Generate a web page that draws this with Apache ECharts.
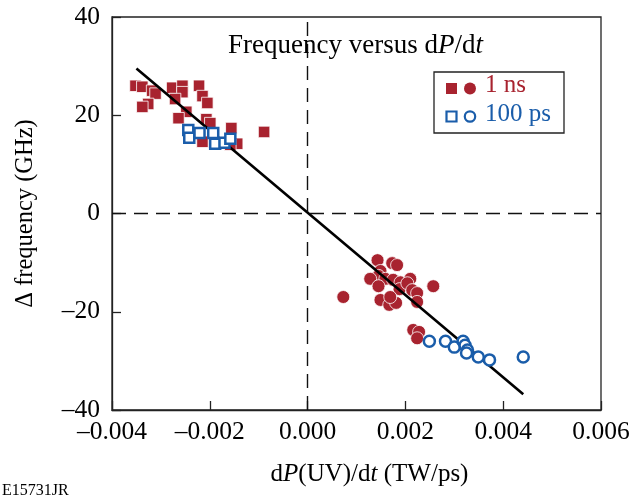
<!DOCTYPE html>
<html>
<head>
<meta charset="utf-8">
<script src="https://cdn.jsdelivr.net/npm/echarts@6/dist/echarts.min.js"></script>
<style>html,body{margin:0;padding:0;background:#fff}#c{width:644px;height:498px}</style>
</head>
<body>
<div id="c"></div>
<script>
// 1 ns, square markers (negative dP/dt)
const nsSquareX = [-0.00352,-0.00338,-0.00318,-0.00311,-0.00326,-0.00338,-0.00277,-0.00256,-0.00256,-0.00271,-0.00248,-0.00264,-0.00222,-0.00215,-0.00205,-0.00207,-0.00199,-0.00156,-0.00144,-0.00089,-0.00215,-0.00158];
const nsSquareY = [26.0,25.8,25.0,24.4,22.3,21.7,25.6,26.0,24.7,23.3,20.7,19.4,26.0,23.9,22.5,19.2,18.4,17.4,14.2,16.6,14.6,14.0];
// 100 ps, open squares
const psSquareX = [-0.00244,-0.00242,-0.00221,-0.00193,-0.00189,-0.00170,-0.00158];
const psSquareY = [17.0,15.4,16.4,16.4,14.2,14.4,15.2];
// 1 ns, filled circles (positive dP/dt)
const nsCircleX = [0.00143,0.00173,0.00183,0.00149,0.00145,0.00128,0.00159,0.00175,0.00190,0.00210,0.00145,0.00188,0.00204,0.00214,0.00224,0.00149,0.00167,0.00181,0.00169,0.00224,0.00257,0.00073,0.00216,0.00228,0.00224];
const nsCircleY = [-9.5,-10.1,-10.5,-11.7,-12.7,-13.3,-13.3,-13.5,-14.0,-13.3,-14.8,-15.4,-14.2,-15.6,-16.2,-17.6,-18.6,-18.2,-17.0,-18.0,-14.8,-17.0,-23.7,-24.1,-25.4];
// 100 ps, open circles
const psCircleX = [0.00249,0.00282,0.00300,0.00318,0.00322,0.00327,0.00325,0.00349,0.00372,0.00441];
const psCircleY = [-26.0,-26.0,-27.2,-26.0,-26.8,-27.8,-28.4,-29.2,-29.8,-29.2];
// fitted line end points
const fitX = [-0.0035, 0.00441];
const fitY = [29.5, -36.8];
// axis ticks
const xTicks = [-0.004,-0.002,0.000,0.002,0.004,0.006];
const yTicks = [-40,-20,0,20,40];

const RED = '#A8232F', BLUE = '#1A5DAA';
const FONT = '"Liberation Serif", "DejaVu Serif", serif';
const pairs = (xs, ys) => xs.map((x, i) => [x, ys[i]]);
const fmtX = v => (v < 0 ? '\u2013' : '') + Math.abs(v).toFixed(3);
const fmtY = v => (v < 0 ? '\u2013' : '') + Math.abs(v);

const chart = echarts.init(document.getElementById('c'), null, {renderer: 'canvas'});
chart.setOption({
  animation: false,
  backgroundColor: '#fff',
  textStyle: {fontFamily: FONT},
  grid: {left: 112, top: 17, right: 43, bottom: 88, show: true, borderColor: '#222', borderWidth: 1.3, backgroundColor: 'transparent'},
  xAxis: {
    type: 'value', min: xTicks[0], max: xTicks[xTicks.length - 1], interval: 0.002,
    axisLine: {show: true, onZero: false, lineStyle: {color: '#222', width: 1.3}},
    axisTick: {show: true, inside: true, length: 9, lineStyle: {color: '#222', width: 1.3}},
    splitLine: {show: false},
    axisLabel: {formatter: fmtX, fontSize: 25.5, color: '#000', margin: 9, fontFamily: FONT},
    name: '{n|d}{i|P}{n|(UV)/d}{i|t}{n| (TW/ps)}',
    nameLocation: 'middle', nameGap: 52,
    nameTextStyle: {padding: [0, 0, 0, 26], rich: {n: {fontSize: 25, fontFamily: FONT, color: '#000'}, i: {fontSize: 25, fontFamily: FONT, fontStyle: 'italic', color: '#000'}}}
  },
  yAxis: {
    type: 'value', min: yTicks[0], max: yTicks[yTicks.length - 1], interval: 20,
    axisLine: {show: true, onZero: false, lineStyle: {color: '#222', width: 1.3}},
    axisTick: {show: true, inside: true, length: 9, lineStyle: {color: '#222', width: 1.3}},
    splitLine: {show: false},
    axisLabel: {formatter: fmtY, fontSize: 25.5, color: '#000', margin: 12, fontFamily: FONT},
    name: '\u0394 frequency (GHz)', nameLocation: 'middle', nameGap: 74,
    nameTextStyle: {fontSize: 24.5, color: '#000', fontFamily: FONT}
  },
  series: [
    {
      type: 'line', data: pairs(fitX, fitY), symbol: 'none', z: 3,
      lineStyle: {color: '#000', width: 2.6}, silent: true,
      markLine: {
        silent: true, symbol: ['none', 'none'], label: {show: false},
        lineStyle: {color: '#111', type: [14, 8], width: 1.4},
        data: [{xAxis: 0}, {yAxis: 0}]
      }
    },
    {name: '1 ns', type: 'scatter', data: pairs(nsSquareX, nsSquareY), symbol: 'rect', symbolSize: 11.5, z: 2,
      itemStyle: {color: RED, opacity: 1, borderColor: '#fff', borderWidth: 0.8}},
    {name: '1 ns', type: 'scatter', data: pairs(nsCircleX, nsCircleY), symbol: 'circle', symbolSize: 13, z: 2,
      itemStyle: {color: RED, opacity: 1, borderColor: '#fff', borderWidth: 0.8}},
    {name: '100 ps', type: 'scatter', data: pairs(psSquareX, psSquareY), symbol: 'rect', symbolSize: 10, z: 4,
      itemStyle: {color: '#fff', opacity: 1, borderColor: BLUE, borderWidth: 2.5}},
    {name: '100 ps', type: 'scatter', data: pairs(psCircleX, psCircleY), symbol: 'circle', symbolSize: 11, z: 4,
      itemStyle: {color: '#fff', opacity: 1, borderColor: BLUE, borderWidth: 2.5}}
  ],
  graphic: [
    {type: 'text', left: 228, top: 32, z: 10,
      style: {text: '{n|Frequency versus d}{i|P}{n|/d}{i|t}', rich: {n: {fontSize: 27, fontFamily: FONT, fill: '#000'}, i: {fontSize: 27, fontFamily: FONT, fontStyle: 'italic', fill: '#000'}}}},
    {type: 'rect', shape: {x: 434, y: 72, width: 130, height: 61}, z: 10,
      style: {fill: '#fff', stroke: '#222', lineWidth: 1.3}},
    {type: 'rect', shape: {x: 446, y: 83, width: 11, height: 11}, z: 11, style: {fill: RED}},
    {type: 'circle', shape: {cx: 470, cy: 88.5, r: 6}, z: 11, style: {fill: RED}},
    {type: 'text', left: 485, top: 73, z: 11, style: {text: '1 ns', fontSize: 25, fontFamily: FONT, fill: RED}},
    {type: 'rect', shape: {x: 446.5, y: 111.5, width: 10, height: 10}, z: 11, style: {fill: '#fff', stroke: BLUE, lineWidth: 2.2}},
    {type: 'circle', shape: {cx: 470, cy: 116.5, r: 5.2}, z: 11, style: {fill: '#fff', stroke: BLUE, lineWidth: 2.2}},
    {type: 'text', left: 485, top: 102, z: 11, style: {text: '100 ps', fontSize: 25, fontFamily: FONT, fill: BLUE}},
    {type: 'text', left: 2, top: 483, z: 10, style: {text: 'E15731JR', fontSize: 16, fontFamily: FONT, fill: '#000'}}
  ]
});
</script>
</body>
</html>
